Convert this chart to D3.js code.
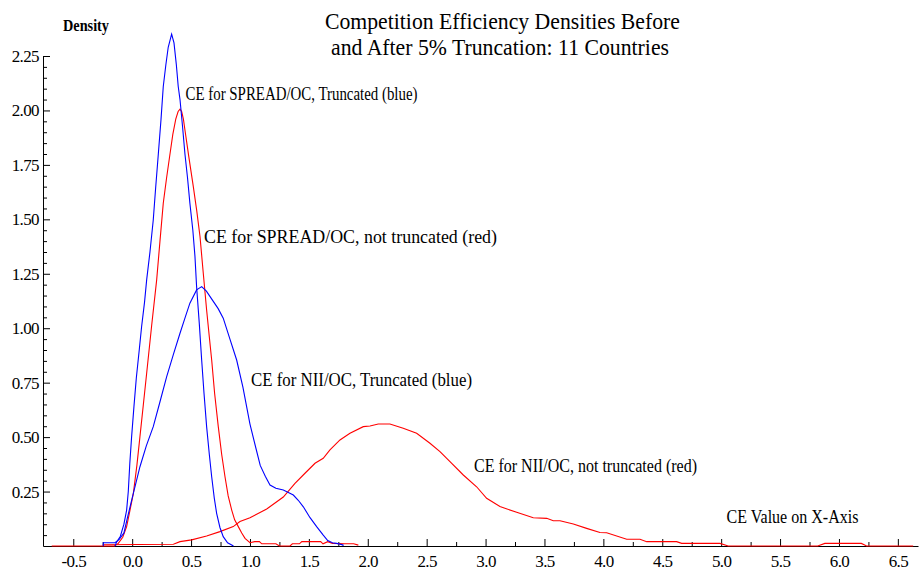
<!DOCTYPE html>
<html><head><meta charset="utf-8">
<script src="https://cdn.jsdelivr.net/npm/d3@7/dist/d3.min.js"></script>
</head><body style="margin:0"><svg id="chart" width="920" height="576" font-family="Liberation Serif, Times New Roman, Tinos, serif"></svg>
<script>
// ---- data ----
const xMajorTicks = [-0.5,0,0.5,1,1.5,2,2.5,3,3.5,4,4.5,5,5.5,6,6.5];
const xTickLabels = ["-0.5","0.0","0.5","1.0","1.5","2.0","2.5","3.0","3.5","4.0","4.5","5.0","5.5","6.0","6.5"];
const yMajorTicks = [0.25,0.5,0.75,1,1.25,1.5,1.75,2,2.25];
const yTickLabels = ["0.25","0.50","0.75","1.00","1.25","1.50","1.75","2.00","2.25"];

const titleLines = ["Competition Efficiency Densities Before","and After 5% Truncation: 11 Countries"];
const yAxisTitle = "Density";
const annotations = ["CE for SPREAD/OC, Truncated (blue)","CE for SPREAD/OC, not truncated (red)","CE for NII/OC, Truncated (blue)","CE for NII/OC, not truncated (red)","CE Value on X-Axis"];

// CE for SPREAD/OC, truncated (blue)
const spreadTruncated = [[-0.146,0],[-0.13,0.02],[-0.10,0.045],[-0.07,0.10],[-0.047,0.165],[-0.033,0.25],[-0.02,0.38],[-0.005,0.5],[0.015,0.64],[0.035,0.77],[0.06,0.90],[0.08,1.007],[0.105,1.12],[0.123,1.222],[0.151,1.35],[0.179,1.497],[0.20,1.65],[0.222,1.80],[0.245,1.96],[0.264,2.11],[0.286,2.21],[0.306,2.29],[0.335,2.35],[0.355,2.31],[0.375,2.21],[0.391,2.11],[0.406,2.05],[0.427,1.93],[0.448,1.80],[0.47,1.69],[0.49,1.574],[0.515,1.45],[0.533,1.33],[0.547,1.19],[0.57,1.02],[0.59,0.854],[0.61,0.70],[0.632,0.548],[0.655,0.42],[0.675,0.318],[0.697,0.22],[0.717,0.15],[0.745,0.085],[0.773,0.043],[0.81,0.015],[0.845,0.005],[0.86,0]];
// CE for SPREAD/OC, not truncated (red)
const spreadFull = [[-0.683,0],[-0.15,0],[-0.118,0.012],[-0.08,0.04],[-0.047,0.089],[-0.02,0.16],[0.01,0.242],[0.04,0.37],[0.066,0.502],[0.095,0.65],[0.123,0.793],[0.165,1.01],[0.208,1.222],[0.236,1.40],[0.264,1.574],[0.292,1.69],[0.321,1.80],[0.345,1.89],[0.37,1.96],[0.39,1.995],[0.406,2.006],[0.42,1.995],[0.435,1.96],[0.448,1.91],[0.48,1.79],[0.519,1.65],[0.548,1.54],[0.576,1.42],[0.604,1.25],[0.632,1.084],[0.655,0.96],[0.675,0.854],[0.70,0.70],[0.731,0.548],[0.76,0.42],[0.788,0.318],[0.815,0.23],[0.845,0.165],[0.87,0.12],[0.901,0.089],[0.93,0.06],[0.958,0.035],[1.0,0.015],[1.04,0.02],[1.08,0.02],[1.10,0.01],[1.22,0.01],[1.25,0],[1.34,0],[1.36,0.01],[1.42,0.01],[1.44,0.02],[1.60,0.02],[1.62,0.01],[1.66,0.02],[1.70,0.012],[1.80,0.01],[1.88,0.01],[1.92,0.004]];
// CE for NII/OC, truncated (blue)
const niiTruncated = [[-0.245,0],[-0.245,0.015],[-0.146,0.015],[-0.11,0.03],[-0.07,0.06],[-0.04,0.13],[0.0,0.22],[0.066,0.364],[0.12,0.46],[0.179,0.548],[0.235,0.66],[0.293,0.778],[0.35,0.88],[0.406,0.977],[0.45,1.05],[0.49,1.115],[0.547,1.176],[0.59,1.191],[0.63,1.17],[0.68,1.13],[0.73,1.09],[0.773,1.046],[0.83,0.95],[0.887,0.854],[0.94,0.73],[1.0,0.56],[1.05,0.45],[1.087,0.37],[1.13,0.32],[1.17,0.28],[1.22,0.265],[1.283,0.257],[1.33,0.245],[1.368,0.234],[1.41,0.21],[1.453,0.18],[1.51,0.13],[1.566,0.089],[1.622,0.05],[1.66,0.025],[1.70,0.015],[1.736,0.012],[1.79,0.005],[1.79,0]];
// CE for NII/OC, not truncated (red)
const niiFull = [[-0.25,0.006],[0.35,0.008],[0.406,0.02],[0.505,0.028],[0.632,0.046],[0.745,0.066],[0.858,0.089],[0.915,0.112],[1.0,0.13],[1.142,0.17],[1.283,0.225],[1.382,0.288],[1.467,0.334],[1.552,0.38],[1.622,0.403],[1.679,0.441],[1.764,0.487],[1.849,0.518],[1.962,0.548],[2.019,0.551],[2.089,0.56],[2.188,0.56],[2.301,0.541],[2.415,0.518],[2.528,0.472],[2.613,0.433],[2.698,0.387],[2.811,0.326],[2.924,0.272],[3.009,0.219],[3.122,0.181],[3.264,0.155],[3.405,0.13],[3.519,0.127],[3.575,0.116],[3.632,0.116],[3.745,0.101],[3.858,0.081],[3.971,0.062],[4.028,0.061],[4.198,0.031],[4.311,0.031],[4.368,0.02],[4.622,0.02],[4.665,0.012],[4.99,0.012],[5.06,0],[5.82,0],[5.88,0.012],[6.19,0.012],[6.235,0],[6.63,0]];

// ---- drawing ----
const svg = d3.select("#chart");
const x = d3.scaleLinear().domain([-0.757, 6.671]).range([43, 918]);
const y = d3.scaleLinear().domain([0, 2.25]).range([546, 56]);

const minorX = d3.range(-0.5, 6.51, 0.25).filter(v => Math.abs(v*2 - Math.round(v*2)) > 1e-6);
const minorY = d3.range(0.05, 2.251, 0.05).filter(v => Math.abs(v*4 - Math.round(v*4)) > 1e-6);

// x axis
const gx = svg.append("g").attr("transform", "translate(0,546)");
gx.call(d3.axisBottom(x).tickValues(xMajorTicks).tickSize(-7).tickSizeOuter(0).tickPadding(8.5)
  .tickFormat((d,i) => xTickLabels[i]));
gx.append("g").call(d3.axisBottom(x).tickValues(minorX).tickSize(-4).tickFormat("")).select(".domain").remove();
// y axis
const gy = svg.append("g").attr("transform", "translate(43,0)");
gy.call(d3.axisLeft(y).tickValues(yMajorTicks).tickSize(-7).tickSizeOuter(0).tickPadding(4)
  .tickFormat((d,i) => yTickLabels[i]));
gy.append("g").call(d3.axisLeft(y).tickValues(minorY).tickSize(-4).tickFormat("")).select(".domain").remove();

svg.selectAll("g").attr("font-family", null).attr("font-size", null);
svg.selectAll(".tick text").attr("font-size", 17).attr("letter-spacing", -0.6).attr("fill", "#000");
svg.selectAll(".domain, .tick line").attr("stroke", "#000").attr("stroke-width", 1);

// curves
const line = d3.line().x(d => x(d[0])).y(d => y(d[1]));
const series = [
  {data: niiFull, color: "#ff0000"},
  {data: spreadFull, color: "#ff0000"},
  {data: niiTruncated, color: "#0000ff"},
  {data: spreadTruncated, color: "#0000ff"}
];
svg.append("g").selectAll("path").data(series).join("path")
  .attr("d", d => line(d.data)).attr("fill", "none")
  .attr("stroke", d => d.color).attr("stroke-width", 1.1);

// titles
const tLayout = [{x: 325, y: 29, w: 355}, {x: 331, y: 55, w: 338}];
svg.append("g").selectAll("text").data(titleLines).join("text")
  .attr("x", (d,i) => tLayout[i].x).attr("y", (d,i) => tLayout[i].y)
  .attr("textLength", (d,i) => tLayout[i].w).attr("lengthAdjust", "spacingAndGlyphs")
  .attr("font-size", 23).attr("fill", "#000").text(d => d);

svg.append("text").attr("x", 63).attr("y", 31).attr("textLength", 46).attr("lengthAdjust", "spacingAndGlyphs")
  .attr("font-size", 16).attr("font-weight", "bold").text(yAxisTitle);

const aLayout = [
  {x: 185.5, y: 100, w: 232},
  {x: 204, y: 242.5, w: 293},
  {x: 251, y: 385.5, w: 221},
  {x: 474, y: 471.5, w: 223},
  {x: 726.5, y: 523, w: 132}
];
svg.append("g").selectAll("text").data(annotations).join("text")
  .attr("x", (d,i) => aLayout[i].x).attr("y", (d,i) => aLayout[i].y)
  .attr("textLength", (d,i) => aLayout[i].w).attr("lengthAdjust", "spacingAndGlyphs")
  .attr("font-size", 18).attr("fill", "#000").text(d => d);
</script>
</body></html>
